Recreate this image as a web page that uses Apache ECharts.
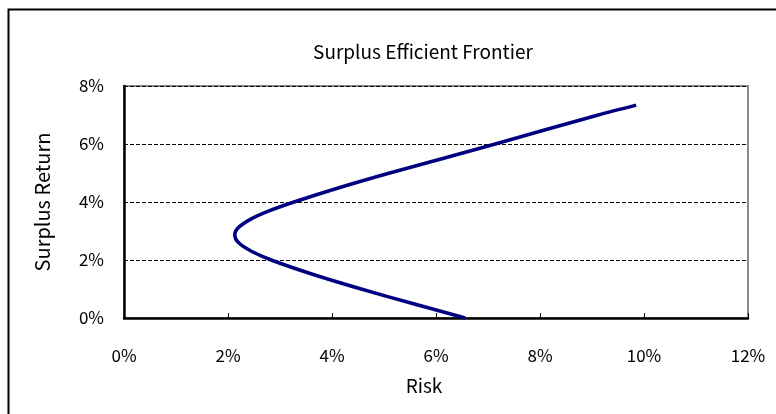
<!DOCTYPE html>
<html><head><meta charset="utf-8">
<script src="https://cdn.jsdelivr.net/npm/echarts@6/dist/echarts.min.js"></script>
<style>html,body{margin:0;padding:0;background:#fff}#c{width:776px;height:414px}</style>
</head><body><div id="c"></div>
<script>
// Surplus return (%) and risk (%)
const surplusReturn = [0, 0.5, 1, 1.5, 2, 2.3, 2.6, 2.86, 3.1, 3.4, 3.7, 4, 4.5, 5, 5.5, 6, 6.5, 7, 7.34];
const risk          = [6.56, 5.55, 4.56, 3.64, 2.83, 2.45, 2.20, 2.13, 2.19, 2.43, 2.80, 3.27, 4.15, 5.11, 6.13, 7.14, 8.12, 9.12, 9.85];
const xTicks = [0, 2, 4, 6, 8, 10, 12];
const yTicks = [0, 2, 4, 6, 8];

const points = risk.map((r, i) => [r, surplusReturn[i]]);
const font = '"Noto Sans CJK JP", "Liberation Sans", sans-serif';
const chart = echarts.init(document.getElementById('c'), null, {renderer: 'canvas'});
chart.setOption({
  animation: false,
  title: {text: 'Surplus Efficient Frontier', left: 418, top: 37, textAlign: 'center',
    textStyle: {fontFamily: font, fontSize: 19, fontWeight: 'normal', color: '#000'}},
  graphic: [{type: 'rect', shape: {x: 8.5, y: 9.5, width: 800, height: 450},
    style: {fill: null, stroke: '#000', lineWidth: 2}, z: 100}],
  grid: {left: 124, right: 28, top: 86, bottom: 96, show: true, borderColor: '#8c8c8c', borderWidth: 2, backgroundColor: '#fff'},
  xAxis: {type: 'value', min: xTicks[0], max: xTicks[xTicks.length - 1], interval: 2,
    name: 'Risk', nameLocation: 'middle', nameGap: 58,
    nameTextStyle: {fontFamily: font, fontSize: 19, color: '#000', padding: [0, 24, 0, 0]},
    axisLine: {show: true, onZero: false, lineStyle: {color: '#000', width: 2.5}},
    axisTick: {show: true, inside: true, length: 5, lineStyle: {color: '#000', width: 1}},
    axisLabel: {formatter: v => v + '%', margin: 29, fontFamily: font, fontSize: 17, color: '#000'},
    splitLine: {show: false}},
  yAxis: {type: 'value', min: yTicks[0], max: yTicks[yTicks.length - 1], interval: 2,
    name: 'Surplus Return', nameLocation: 'middle', nameGap: 72, nameRotate: 90,
    nameTextStyle: {fontFamily: font, fontSize: 20, color: '#000'},
    axisLine: {show: true, onZero: false, lineStyle: {color: '#000', width: 2.5}},
    axisTick: {show: false},
    axisLabel: {formatter: v => v + '%', margin: 20, fontFamily: font, fontSize: 17, color: '#000'},
    splitLine: {show: true, lineStyle: {color: '#000', type: [4, 2], width: 1}}},
  series: [{type: 'line', data: points, smooth: 0.3, showSymbol: false,
    lineStyle: {color: '#000080', width: 3.5}, clip: false}]
});
</script></body></html>
